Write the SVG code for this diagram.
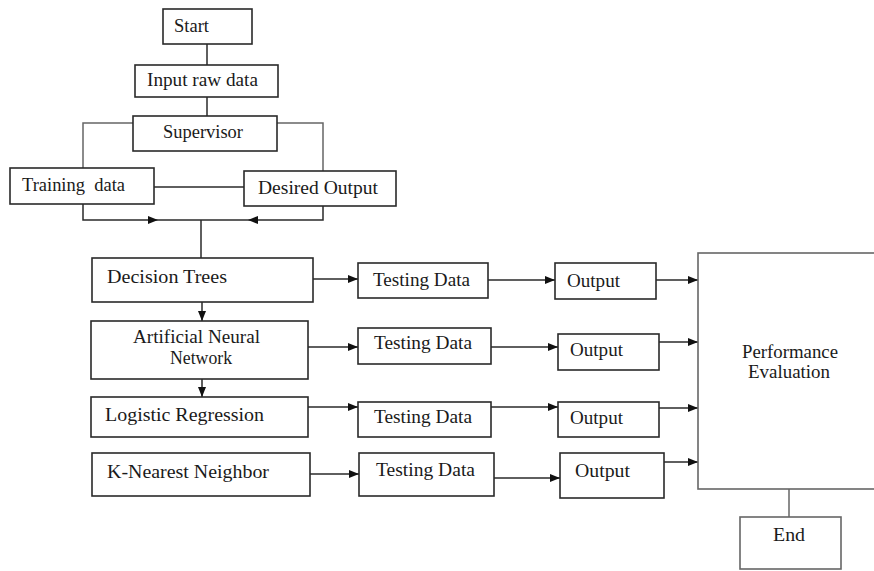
<svg xmlns="http://www.w3.org/2000/svg" width="874" height="571" viewBox="0 0 874 571">
<style>
.b{fill:#fff;stroke:#2a2a2a;stroke-width:1.6}
.g{fill:#fff;stroke:#666;stroke-width:1.6}
.t{font-family:"Liberation Serif","Times New Roman",serif;font-size:18px;fill:#1a1a1a}
.c{fill:none;stroke:#2a2a2a;stroke-width:1.5}
.cg{fill:none;stroke:#666;stroke-width:1.5}
</style>
<defs>
<marker id="a" markerUnits="userSpaceOnUse" markerWidth="10" markerHeight="8" refX="10" refY="4" orient="auto">
<path d="M0,0 L10,4 L0,8 Z" fill="#111"/>
</marker>
</defs>
<rect width="874" height="571" fill="#fff"/>
<g id="connectors">
<line class="c" x1="207" y1="44" x2="207" y2="65"/>
<line class="c" x1="207" y1="97" x2="207" y2="116"/>
<polyline class="cg" points="133,123 83,123 83,168"/>
<polyline class="cg" points="277,123 323,123 323,171"/>
<line class="c" x1="154" y1="187" x2="244" y2="187"/>
<polyline class="c" points="83,204 83,220 158,220" marker-end="url(#a)"/>
<polyline class="c" points="323,206 323,220 248,220" marker-end="url(#a)"/>
<line class="c" x1="158" y1="220" x2="248" y2="220"/>
<line class="c" x1="201" y1="220" x2="201" y2="258"/>
<line class="c" x1="202" y1="302" x2="202" y2="321" marker-end="url(#a)"/>
<line class="c" x1="202" y1="379" x2="202" y2="397" marker-end="url(#a)"/>
<line class="c" x1="313" y1="279" x2="358" y2="279" marker-end="url(#a)"/>
<line class="c" x1="308" y1="347" x2="358" y2="347" marker-end="url(#a)"/>
<line class="c" x1="308" y1="407" x2="358" y2="407" marker-end="url(#a)"/>
<line class="c" x1="310" y1="474" x2="359" y2="474" marker-end="url(#a)"/>
<line class="c" x1="488" y1="280" x2="555" y2="280" marker-end="url(#a)"/>
<line class="c" x1="491" y1="347" x2="558" y2="347" marker-end="url(#a)"/>
<line class="c" x1="491" y1="407" x2="558" y2="407" marker-end="url(#a)"/>
<line class="c" x1="494" y1="478" x2="560" y2="478" marker-end="url(#a)"/>
<line class="c" x1="656" y1="280" x2="698" y2="280" marker-end="url(#a)"/>
<line class="c" x1="659" y1="342" x2="698" y2="342" marker-end="url(#a)"/>
<line class="c" x1="659" y1="408" x2="698" y2="408" marker-end="url(#a)"/>
<line class="c" x1="664" y1="462" x2="698" y2="462" marker-end="url(#a)"/>
<line class="cg" x1="789" y1="489" x2="789" y2="517"/>
</g>
<g id="start"><rect class="b" x="163" y="9" width="89" height="35"/><text class="t" x="174" y="32" textLength="35" lengthAdjust="spacingAndGlyphs">Start</text></g>
<g id="input"><rect class="b" x="135" y="65" width="143" height="32"/><text class="t" x="147" y="86" textLength="111" lengthAdjust="spacingAndGlyphs">Input raw data</text></g>
<g id="supervisor"><rect class="b" x="133" y="116" width="144" height="35"/><text class="t" x="163" y="138" textLength="80" lengthAdjust="spacingAndGlyphs">Supervisor</text></g>
<g id="training"><rect class="b" x="10" y="168" width="144" height="36"/><text class="t" x="22" y="191" textLength="103" lengthAdjust="spacingAndGlyphs" xml:space="preserve">Training  data</text></g>
<g id="desired"><rect class="b" x="244" y="171" width="152" height="35"/><text class="t" x="258" y="194" textLength="120" lengthAdjust="spacingAndGlyphs">Desired Output</text></g>
<g id="dt"><rect class="b" x="92" y="258" width="221" height="44"/><text class="t" x="107" y="283" textLength="120" lengthAdjust="spacingAndGlyphs">Decision Trees</text></g>
<g id="ann"><rect class="b" x="91" y="321" width="217" height="58"/><text class="t" x="133" y="343" textLength="127" lengthAdjust="spacingAndGlyphs">Artificial Neural</text><text class="t" x="170" y="364" textLength="62" lengthAdjust="spacingAndGlyphs">Network</text></g>
<g id="lr"><rect class="b" x="91" y="397" width="217" height="40"/><text class="t" x="105" y="421" textLength="159" lengthAdjust="spacingAndGlyphs">Logistic Regression</text></g>
<g id="knn"><rect class="b" x="92" y="453" width="218" height="43"/><text class="t" x="107" y="478" textLength="162" lengthAdjust="spacingAndGlyphs">K-Nearest Neighbor</text></g>
<g id="test1"><rect class="b" x="358" y="263" width="130" height="35"/><text class="t" x="373" y="286" textLength="97" lengthAdjust="spacingAndGlyphs">Testing Data</text></g>
<g id="test2"><rect class="b" x="358" y="328" width="133" height="36"/><text class="t" x="374" y="349" textLength="98" lengthAdjust="spacingAndGlyphs">Testing Data</text></g>
<g id="test3"><rect class="b" x="358" y="402" width="133" height="35"/><text class="t" x="374" y="423" textLength="98" lengthAdjust="spacingAndGlyphs">Testing Data</text></g>
<g id="test4"><rect class="b" x="359" y="453" width="135" height="43"/><text class="t" x="376" y="476" textLength="99" lengthAdjust="spacingAndGlyphs">Testing Data</text></g>
<g id="out1"><rect class="b" x="555" y="263" width="101" height="36"/><text class="t" x="567" y="287" textLength="53" lengthAdjust="spacingAndGlyphs">Output</text></g>
<g id="out2"><rect class="b" x="558" y="334" width="101" height="36"/><text class="t" x="570" y="356" textLength="53" lengthAdjust="spacingAndGlyphs">Output</text></g>
<g id="out3"><rect class="b" x="558" y="402" width="101" height="35"/><text class="t" x="570" y="424" textLength="53" lengthAdjust="spacingAndGlyphs">Output</text></g>
<g id="out4"><rect class="b" x="560" y="453" width="104" height="45"/><text class="t" x="575" y="477" textLength="55" lengthAdjust="spacingAndGlyphs">Output</text></g>
<g id="perf"><rect class="g" x="698" y="253" width="190" height="236"/><text class="t" x="742" y="358" textLength="96" lengthAdjust="spacingAndGlyphs">Performance</text><text class="t" x="748" y="378" textLength="82" lengthAdjust="spacingAndGlyphs">Evaluation</text></g>
<g id="end"><rect class="g" x="740" y="517" width="101" height="52"/><text class="t" x="773" y="541" textLength="32" lengthAdjust="spacingAndGlyphs">End</text></g>
</svg>
